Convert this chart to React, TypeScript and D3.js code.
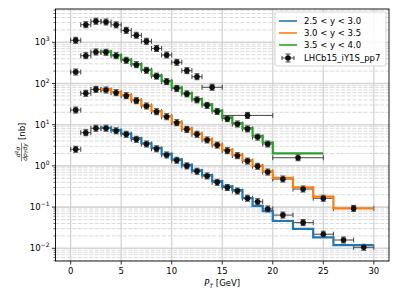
import React from "react";
import * as d3 from "d3";

// bin edges and values (nb)
const topEdges = [0, 1, 2, 3, 4, 5, 6, 7, 8, 9, 10, 11, 12, 13, 15, 20];
const topData = [1118, 2670, 3240, 3110, 2650, 1950, 1480, 1057, 710, 492, 327, 205, 146, 81, 16.8];

const greenEdges = [0, 1, 2, 3, 4, 5, 6, 7, 8, 9, 10, 11, 12, 13, 14, 15, 16, 17, 18, 19, 20, 25];
const greenData = [190, 473, 582, 572, 473, 366, 286, 209, 151, 111, 76, 56, 40, 29.5, 21, 14, 10.4, 7.9, 5.0, 3.4, 1.58];
const greenTheory = [600, 490, 380, 295, 215, 158, 116, 80, 58, 42, 31, 22, 15, 11, 8.3, 5.4, 3.7, 2.02];

const orangeEdges = [0, 1, 2, 3, 4, 5, 6, 7, 8, 9, 10, 11, 12, 13, 14, 15, 16, 17, 18, 19, 20, 22, 24, 26, 30];
const orangeData = [22.7, 57.8, 72, 69.5, 59.8, 50.6, 38.3, 28.4, 20.7, 15.6, 11.2, 7.7, 5.85, 4.26, 3.2, 2.34, 1.77, 1.31, 0.98, 0.71, 0.48, 0.275, 0.164, 0.093];
const orangeTheory = [73, 62, 52, 40, 29.5, 21.5, 16.2, 11.6, 8.0, 6.1, 4.4, 3.3, 2.45, 1.85, 1.37, 1.02, 0.74, 0.515, 0.303, 0.179, 0.093];

const blueEdges = [0, 1, 2, 3, 4, 5, 6, 7, 8, 9, 10, 11, 12, 13, 14, 15, 16, 17, 18, 19, 20, 22, 24, 26, 28, 30];
const blueData = [2.53, 6.4, 8.2, 8.2, 7.1, 5.85, 4.42, 3.4, 2.6, 1.84, 1.37, 1.0, 0.74, 0.57, 0.4, 0.3, 0.245, 0.164, 0.135, 0.09, 0.064, 0.042, 0.022, 0.0159, 0.0106];
const blueTheory = [8.4, 7.4, 6.1, 4.7, 3.55, 2.75, 1.95, 1.45, 1.06, 0.78, 0.6, 0.43, 0.32, 0.26, 0.165, 0.107, 0.08, 0.046, 0.0295, 0.0185, 0.012];

const theoryStart = 3;
const xTicks = [0, 5, 10, 15, 20, 25, 30];
const yExps = [-2, -1, 0, 1, 2, 3];
const legendLabels = ["2.5 < y < 3.0", "3.0 < y < 3.5", "3.5 < y < 4.0"];
const colors = ["#1f77b4", "#ff7f0e", "#2ca02c"];

const W = 399, H = 299;
const L = 55.5, R = 389, T = 9, B = 261;
const font = "DejaVu Sans, sans-serif";
const barColor = "#444";

const x = d3.scaleLinear().domain([-1.5, 31.5]).range([L, R]);
const y = d3.scaleLog().domain([0.00492, 6430]).range([B, T]);

const stepPath = (edges: number[], vals: number[]) => {
  const pts: [number, number][] = vals.map((v, i) => [edges[i], v]);
  pts.push([edges[edges.length - 1], vals[vals.length - 1]]);
  return d3.line<[number, number]>()
    .x((d) => x(d[0]))
    .y((d) => y(d[1]))
    .curve(d3.curveStepAfter)(pts);
};

const dataSets = [
  { edges: topEdges, vals: topData },
  { edges: greenEdges, vals: greenData },
  { edges: orangeEdges, vals: orangeData },
  { edges: blueEdges, vals: blueData },
];

const ErrBars = ({ edges, vals }) => (
  <g stroke={barColor} strokeWidth={1}>
    {vals.map((v, i) => {
      const x0 = x(edges[i]), x1 = x(edges[i + 1]);
      const cx = (x0 + x1) / 2, cy = y(v);
      return (
        <g key={i}>
          <line x1={x0} x2={x1} y1={cy} y2={cy} />
          <line x1={x0} x2={x0} y1={cy - 2.5} y2={cy + 2.5} />
          <line x1={x1} x2={x1} y1={cy - 2.5} y2={cy + 2.5} />
          <line x1={cx} x2={cx} y1={cy - 3} y2={cy + 3} />
          <line x1={cx - 2.5} x2={cx + 2.5} y1={cy - 3} y2={cy - 3} />
          <line x1={cx - 2.5} x2={cx + 2.5} y1={cy + 3} y2={cy + 3} />
        </g>
      );
    })}
  </g>
);

const Dots = ({ edges, vals }) => (
  <g fill="#111">
    {vals.map((v, i) => (
      <circle key={i} cx={(x(edges[i]) + x(edges[i + 1])) / 2} cy={y(v)} r={2.8} />
    ))}
  </g>
);

const minorVals: number[] = [];
for (let e = -3; e <= 3; e++) {
  for (let k = 2; k <= 9; k++) {
    const v = k * Math.pow(10, e);
    if (v > y.domain()[0] && v < y.domain()[1]) minorVals.push(v);
  }
}

export default function App() {
  const theories = [
    { edges: blueEdges.slice(theoryStart), vals: blueTheory, color: colors[0] },
    { edges: orangeEdges.slice(theoryStart), vals: orangeTheory, color: colors[1] },
    { edges: greenEdges.slice(theoryStart), vals: greenTheory, color: colors[2] },
  ];
  return (
    <svg width={W} height={H} style={{ position: "absolute", left: 0, top: 0, background: "#fff" }} fontFamily={font}>
      <defs>
        <clipPath id="plot">
          <rect x={L} y={T} width={R - L} height={B - T} />
        </clipPath>
      </defs>
      {/* grid */}
      <g clipPath="url(#plot)">
        {minorVals.map((v) => (
          <line key={v} x1={L} x2={R} y1={y(v)} y2={y(v)} stroke="#d0d0d0" strokeWidth={0.8} strokeDasharray="4,1.6" />
        ))}
        {yExps.map((e) => (
          <line key={e} x1={L} x2={R} y1={y(Math.pow(10, e))} y2={y(Math.pow(10, e))} stroke="#d6d6d6" strokeWidth={1.6} />
        ))}
        {xTicks.map((t) => (
          <line key={t} x1={x(t)} x2={x(t)} y1={T} y2={B} stroke="#d0d0d0" strokeWidth={1.2} />
        ))}
        {dataSets.map((s, i) => <ErrBars key={i} edges={s.edges} vals={s.vals} />)}
        {theories.map((s, i) => (
          <path key={i} d={stepPath(s.edges, s.vals)} fill="none" stroke={s.color} strokeWidth={2.2} />
        ))}
        {dataSets.map((s, i) => <Dots key={i} edges={s.edges} vals={s.vals} />)}
      </g>
      {/* frame */}
      <rect x={L} y={T} width={R - L} height={B - T} fill="none" stroke="#000" strokeWidth={0.9} />
      {/* x axis */}
      {xTicks.map((t) => (
        <g key={t}>
          <line x1={x(t)} x2={x(t)} y1={B} y2={B + 3.5} stroke="#000" strokeWidth={0.8} />
          <text x={x(t)} y={274} fontSize={8.5} textAnchor="middle">{t}</text>
        </g>
      ))}
      {/* y axis */}
      {minorVals.map((v) => (
        <line key={v} x1={L - 2} x2={L} y1={y(v)} y2={y(v)} stroke="#000" strokeWidth={0.6} />
      ))}
      {yExps.map((e) => (
        <g key={e}>
          <line x1={L - 3.5} x2={L} y1={y(Math.pow(10, e))} y2={y(Math.pow(10, e))} stroke="#000" strokeWidth={0.8} />
          <text x={L - 6} y={y(Math.pow(10, e)) + 3} fontSize={8.5} textAnchor="end">
            10<tspan dy={-4} fontSize={6}>{e < 0 ? "\u2212" + Math.abs(e) : e}</tspan>
          </text>
        </g>
      ))}
      {/* x label */}
      <text x={(L + R) / 2} y={286} fontSize={8.5} textAnchor="middle">
        <tspan fontStyle="italic">P</tspan>
        <tspan fontSize={6} fontStyle="italic" dy={2}>T</tspan>
        <tspan dy={-2}> [GeV]</tspan>
      </text>
      {/* y label */}
      <g transform="translate(22,143) rotate(-90)">
        <text x={-9} y={-2.5} fontSize={6} textAnchor="middle">
          <tspan fontStyle="italic">d</tspan>
          <tspan fontSize={4.5} dy={-2}>2</tspan>
          <tspan fontStyle="italic" dy={2}>σ</tspan>
        </text>
        <line x1={-18} x2={0} y1={-0.5} y2={-0.5} stroke="#000" strokeWidth={0.5} />
        <text x={-9} y={5} fontSize={6} textAnchor="middle" fontStyle="italic">
          dp<tspan fontSize={4.5} dy={1}>T</tspan><tspan dy={-1}>dy</tspan>
        </text>
        <text x={3} y={3} fontSize={8.5}>[nb]</text>
      </g>
      {/* legend */}
      <g>
        <rect x={275} y={12} width={111} height={54} rx={2} fill="#fff" fillOpacity={0.85} stroke="#cccccc" strokeWidth={0.8} />
        {legendLabels.map((lab, i) => (
          <g key={lab}>
            <line x1={279} x2={297} y1={21 + i * 12} y2={21 + i * 12} stroke={colors[i]} strokeWidth={1.6} />
            <text x={304} y={24 + i * 12} fontSize={8.5}>{lab}</text>
          </g>
        ))}
        <g stroke={barColor} strokeWidth={1}>
          <line x1={282} x2={294} y1={58} y2={58} />
          <line x1={282} x2={282} y1={56} y2={60} />
          <line x1={294} x2={294} y1={56} y2={60} />
          <line x1={288} x2={288} y1={54} y2={62} />
          <line x1={285.5} x2={290.5} y1={54} y2={54} />
          <line x1={285.5} x2={290.5} y1={62} y2={62} />
        </g>
        <circle cx={288} cy={58} r={2.8} fill="#111" />
        <text x={304} y={61} fontSize={8.5}>LHCb15_iY1S_pp7</text>
      </g>
    </svg>
  );
}
